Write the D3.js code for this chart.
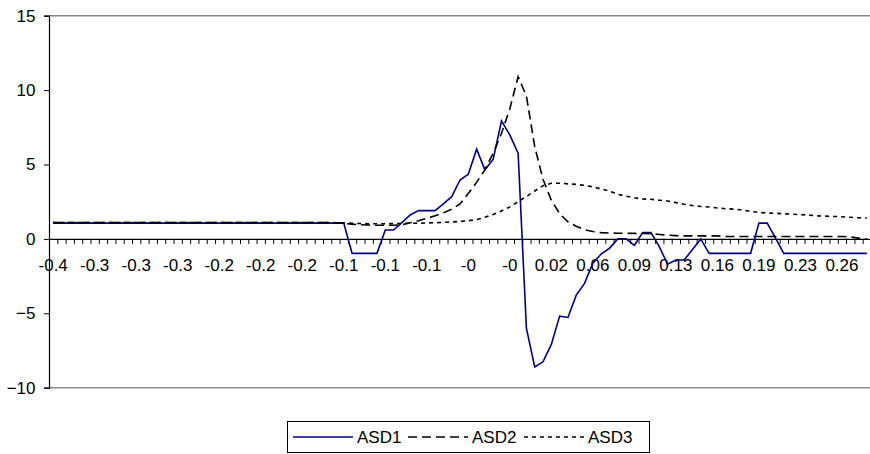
<!DOCTYPE html>
<html>
<head>
<meta charset="utf-8">
<script src="https://cdn.jsdelivr.net/npm/d3@7"></script>
<style>
  body { margin: 0; background: #fff; }
  text { font-family: "Liberation Sans", Arial, sans-serif; }
</style>
</head>
<body>
<div class="canvas"></div>
<script>
// x labels, one every 5 categories
const tickLabels = ['-0.4', '-0.3', '-0.3', '-0.3', '-0.2', '-0.2', '-0.2', '-0.1', '-0.1', '-0.1',
    '-0', '-0', '0.02', '0.06', '0.09', '0.13', '0.16', '0.19', '0.23', '0.26'];
const yTicks = [-10, -5, 0, 5, 10, 15];
const seriesNames = ['ASD1', 'ASD2', 'ASD3'];

// values, 99 points each
const asd1 = [1.06, 1.06, 1.06, 1.06, 1.06, 1.06, 1.06, 1.06, 1.06, 1.06,
    1.06, 1.06, 1.06, 1.06, 1.06, 1.06, 1.06, 1.06, 1.06, 1.06,
    1.06, 1.06, 1.06, 1.06, 1.06, 1.06, 1.06, 1.06, 1.06, 1.06,
    1.06, 1.06, 1.06, 1.06, 1.06, 1.06, -0.97, -0.97, -0.97, -0.97,
    0.6, 0.6, 1.1, 1.61, 1.9, 1.9, 1.9, 2.35, 2.84, 3.96,
    4.35, 6.03, 4.64, 5.36, 7.93, 6.99, 5.76, -6.02, -8.6, -8.26,
    -7.09, -5.19, -5.28, -3.78, -2.99, -1.64, -1.02, -0.63, 0, 0,
    -0.43, 0.42, 0.42, -0.52, -1.7, -1.42, -1.42, -0.71, 0, -0.97,
    -0.97, -0.97, -0.97, -0.97, -0.97, 1.06, 1.06, 0.05, -0.97, -0.97,
    -0.97, -0.97, -0.97, -0.97, -0.97, -0.97, -0.97, -0.97, -0.97];

const asd2 = [1.1, 1.1, 1.1, 1.1, 1.1, 1.1, 1.1, 1.1, 1.1, 1.1,
    1.1, 1.1, 1.1, 1.1, 1.1, 1.1, 1.1, 1.1, 1.1, 1.1,
    1.1, 1.1, 1.1, 1.1, 1.1, 1.1, 1.1, 1.1, 1.1, 1.1,
    1.1, 1.1, 1.1, 1.1, 1.08, 1.04, 0.99, 0.95, 0.93, 0.92,
    0.92, 0.92, 0.95, 1.08, 1.22, 1.38, 1.55, 1.75, 2.0, 2.35,
    3.05, 3.8, 4.65, 5.75, 7.1, 8.75, 10.9, 9.6, 6.2, 4.0,
    2.6, 1.7, 1.15, 0.85, 0.62, 0.5, 0.42, 0.39, 0.38, 0.38,
    0.37, 0.36, 0.35, 0.3, 0.25, 0.22, 0.2, 0.2, 0.2, 0.2,
    0.2, 0.16, 0.16, 0.16, 0.16, 0.16, 0.16, 0.16, 0.16, 0.16,
    0.16, 0.16, 0.16, 0.16, 0.16, 0.16, 0.13, 0.05, 0.0];

const asd3 = [1.1, 1.1, 1.1, 1.1, 1.1, 1.1, 1.1, 1.1, 1.1, 1.1,
    1.1, 1.1, 1.1, 1.1, 1.1, 1.1, 1.1, 1.1, 1.1, 1.1,
    1.1, 1.1, 1.1, 1.1, 1.1, 1.1, 1.1, 1.1, 1.1, 1.1,
    1.1, 1.1, 1.1, 1.1, 1.09, 1.07, 1.05, 1.03, 1.02, 1.02,
    1.02, 1.03, 1.04, 1.05, 1.06, 1.07, 1.09, 1.11, 1.14, 1.17,
    1.22, 1.3, 1.45, 1.64, 1.88, 2.15, 2.5, 2.85, 3.22, 3.58,
    3.74, 3.74, 3.7, 3.66, 3.6, 3.5, 3.35, 3.22, 3.0, 2.87,
    2.76, 2.68, 2.66, 2.6, 2.55, 2.44, 2.33, 2.24, 2.18, 2.14,
    2.08, 2.03, 2.0, 1.94, 1.85, 1.78, 1.74, 1.72, 1.69, 1.66,
    1.63, 1.6, 1.55, 1.53, 1.51, 1.49, 1.45, 1.42, 1.4];

const series = [asd1, asd2, asd3];
const styles = [
    { color: '#000080', dash: null },
    { color: '#000', dash: '9,5' },
    { color: '#000', dash: '4,4' }
];

const width = 870, height = 454;
const plotLeft = 49, plotRight = 871, plotTop = 15.7, plotBottom = 387.7;

const svg = d3.select('.canvas').append('svg')
    .attr('width', width)
    .attr('height', height);

svg.append('rect')
    .attr('width', width)
    .attr('height', height)
    .attr('fill', '#fff');

// scales
const idx = d3.range(asd1.length);
const x = d3.scaleBand().domain(idx).range([plotLeft, plotRight]);
const xEdge = d3.scaleLinear().domain([0, idx.length]).range([plotLeft, plotRight]);
const y = d3.scaleLinear().domain([-10, 15]).range([plotBottom, plotTop]);

// plot area border, top and bottom in grey
svg.append('line')
    .attr('x1', plotLeft).attr('x2', plotRight)
    .attr('y1', y(15)).attr('y2', y(15))
    .attr('stroke', '#888').attr('stroke-width', 1.6);
svg.append('line')
    .attr('x1', plotLeft).attr('x2', plotRight)
    .attr('y1', y(-10)).attr('y2', y(-10))
    .attr('stroke', '#888').attr('stroke-width', 1.6);

// y axis
const yAxis = svg.append('g')
    .attr('transform', `translate(${plotLeft},0)`)
    .call(d3.axisLeft(y).tickValues(yTicks).tickSize(5).tickPadding(8.5));
yAxis.select('.domain').attr('stroke', '#000').attr('stroke-width', 1.2);
yAxis.selectAll('text').attr('font-size', 17).attr('font-family', '"Liberation Sans", Arial, sans-serif').attr('fill', '#000');

// x axis at zero, a tick on every category edge
const xAxis = svg.append('g')
    .attr('transform', `translate(0,${y(0)})`)
    .call(d3.axisBottom(xEdge).tickValues(d3.range(idx.length + 1)).tickSize(5).tickSizeOuter(0).tickFormat(''));
xAxis.select('.domain').attr('stroke', '#000').attr('stroke-width', 1.2);

// category labels every 5th point
const xLabels = svg.append('g')
    .attr('transform', `translate(0,${y(0)})`)
    .call(d3.axisBottom(x)
        .tickValues(idx.filter(i => i % 5 === 0))
        .tickSize(0)
        .tickPadding(20)
        .tickFormat(i => tickLabels[i / 5]));
xLabels.select('.domain').remove();
xLabels.selectAll('text').attr('font-size', 17).attr('font-family', '"Liberation Sans", Arial, sans-serif').attr('fill', '#000');

// lines
const line = d3.line()
    .x((d, i) => x(i) + x.bandwidth() / 2)
    .y(d => y(d));

series.forEach((s, k) => {
    svg.append('path')
        .datum(s)
        .attr('d', line)
        .attr('fill', 'none')
        .attr('stroke', styles[k].color)
        .attr('stroke-width', 1.6)
        .attr('stroke-dasharray', styles[k].dash);
});

// legend
const legend = svg.append('g');
legend.append('rect')
    .attr('x', 287.5).attr('y', 421.5)
    .attr('width', 362).attr('height', 31)
    .attr('fill', '#fff').attr('stroke', '#000').attr('stroke-width', 1);

const legX = [293, 408, 524];
seriesNames.forEach((name, k) => {
    legend.append('line')
        .attr('x1', legX[k]).attr('x2', legX[k] + 60)
        .attr('y1', 437).attr('y2', 437)
        .attr('stroke', styles[k].color)
        .attr('stroke-width', 1.6)
        .attr('stroke-dasharray', styles[k].dash);
    legend.append('text')
        .text(name)
        .attr('x', legX[k] + 64)
        .attr('y', 443)
        .attr('font-size', 17)
        .attr('fill', '#000');
});
</script>
</body>
</html>
